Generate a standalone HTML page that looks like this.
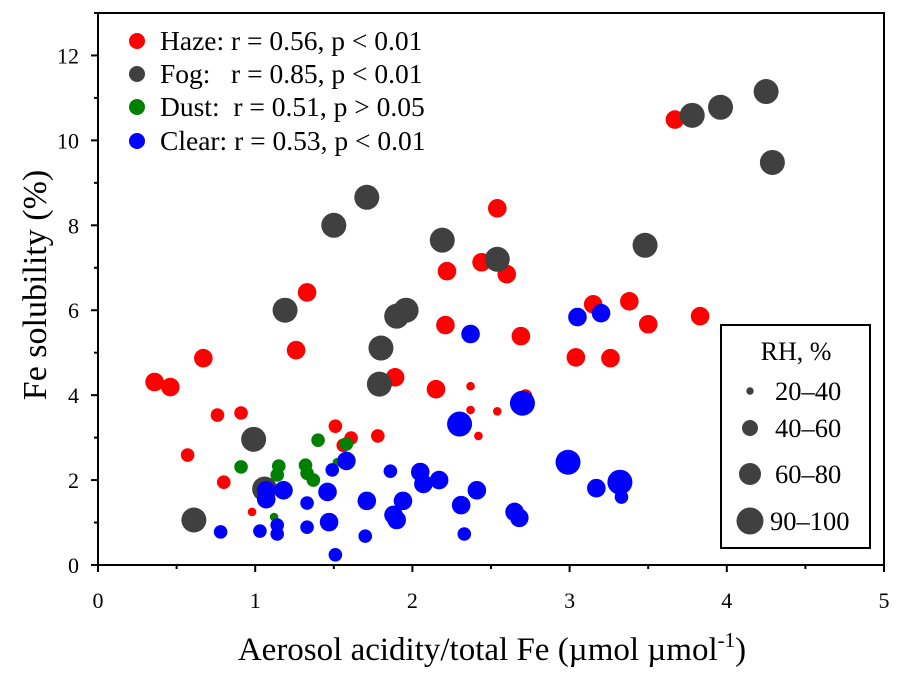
<!DOCTYPE html>
<html><head><meta charset="utf-8">
<style>
html,body{margin:0;padding:0;background:#fff;}
svg{display:block;font-family:"Liberation Serif",serif;}
</style></head>
<body>
<svg id="chart" width="901" height="678" viewBox="0 0 901 678" xmlns="http://www.w3.org/2000/svg">
</svg>
<script>
const xTicks=[0,1,2,3,4,5];
const yTicks=[0,2,4,6,8,10,12];
const seriesNames=["Haze","Fog","Dust","Clear"];
const seriesColors=["#ff0000","#404040","#008000","#0000ff"];
const legendLabels=["Haze: r = 0.56, p < 0.01","Fog:   r = 0.85, p < 0.01","Dust:  r = 0.51, p > 0.05","Clear: r = 0.53, p < 0.01"];
const rhLabels=["20–40","40–60","60–80","90–100"];
const rhLevels=[30,50,70,95];
// Haze
const hazeX=[0.36,0.46,0.67,0.76,0.91,0.57,0.80,0.98,1.26,1.33,1.51,1.61,1.56,1.78,1.89,2.15,2.21,2.22,2.44,2.54,2.60,2.69,2.37,2.37,2.54,2.42,2.72,3.04,3.15,3.26,3.38,3.50,3.67,3.83];
const hazeY=[4.31,4.19,4.87,3.53,3.58,2.59,1.95,1.25,5.06,6.42,3.27,2.99,2.82,3.04,4.42,4.14,5.65,6.92,7.13,8.40,6.85,5.39,4.21,3.65,3.62,3.04,3.98,4.89,6.14,4.87,6.21,5.67,10.49,5.86];
const hazeRH=[70,70,70,50,50,50,50,30,70,70,50,50,50,50,70,70,70,70,70,70,70,70,30,30,30,30,50,70,70,70,70,70,70,70];
// Fog
const fogX=[0.61,0.99,1.06,1.19,1.50,1.71,1.79,1.80,1.90,1.96,2.19,2.54,3.48,3.78,3.96,4.25,4.29];
const fogY=[1.06,2.96,1.79,6.0,8.0,8.66,4.26,5.11,5.86,6.0,7.65,7.2,7.53,10.59,10.78,11.15,9.48];
const fogRH=[95,95,95,95,95,95,95,95,95,95,95,95,95,95,95,95,95];
// Dust
const dustX=[0.91,1.15,1.14,1.32,1.33,1.37,1.40,1.58,1.12,1.52,1.09];
const dustY=[2.31,2.33,2.12,2.35,2.16,2.0,2.94,2.85,1.13,2.42,1.48];
const dustRH=[50,50,50,50,50,50,50,50,30,30,30];
// Clear
const clearX=[0.78,1.03,1.07,1.07,1.14,1.14,1.18,1.33,1.33,1.46,1.47,1.49,1.51,1.58,1.71,1.70,1.86,1.88,1.90,1.94,2.05,2.07,2.17,2.31,2.33,2.41,2.30,2.37,2.70,2.65,2.68,2.99,3.17,3.32,3.33,3.05,3.20];
const clearY=[0.78,0.80,1.55,1.76,0.94,0.73,1.76,1.46,0.89,1.72,1.01,2.24,0.24,2.45,1.51,0.68,2.21,1.18,1.06,1.51,2.19,1.91,2.0,1.41,0.73,1.76,3.32,5.44,3.81,1.25,1.11,2.42,1.81,1.95,1.60,5.84,5.93];
const clearRH=[50,50,70,70,50,50,70,50,50,70,70,50,50,70,70,50,50,70,70,70,70,70,70,70,50,70,95,70,95,70,70,95,70,95,50,70,70];

const L=98,R=884,T=13,B=565;
const xs=v=>L+(v-0)/(5-0)*(R-L);
const ys=v=>B-(v-0)/(13-0)*(B-T);
const rr=rh=>rh<40?4.3:rh<60?6.8:rh<80?9.3:12.5;
const NS="http://www.w3.org/2000/svg";
const svg=document.getElementById('chart');
function mk(tag,attrs,parent){const e=document.createElementNS(NS,tag);for(const k in attrs)e.setAttribute(k,attrs[k]);(parent||svg).appendChild(e);return e;}

const plot=mk('g',{});


const data=[[hazeX,hazeY,hazeRH],[fogX,fogY,fogRH],[dustX,dustY,dustRH],[clearX,clearY,clearRH]];
data.forEach((d,si)=>{
  const g=mk('g',{},plot);
  
  
  d[0].forEach((x,i)=>{
    const c=mk('circle',{cx:xs(x),cy:ys(d[1][i]),r:rr(d[2][i]),fill:seriesColors[si]},g);
    
    
  });
});

const frame=mk('rect',{x:L,y:T,width:R-L,height:B-T,fill:'none',stroke:'#000','stroke-width':2});


xTicks.forEach(v=>{
  const t=mk('line',{x1:xs(v),x2:xs(v),y1:B,y2:B+7,stroke:'#000','stroke-width':2});
  
  
  if(v<5){const m=mk('line',{x1:xs(v+0.5),x2:xs(v+0.5),y1:B,y2:B+4,stroke:'#000','stroke-width':2});
  
  }
  const tx=mk('text',{x:xs(v),y:B+43,'text-anchor':'middle','font-size':22});
  tx.textContent=v;
  
  
});
yTicks.forEach(v=>{
  const t=mk('line',{x1:L-7,x2:L,y1:ys(v),y2:ys(v),stroke:'#000','stroke-width':2});
  
  
  const m=mk('line',{x1:L-4,x2:L,y1:ys(v+1),y2:ys(v+1),stroke:'#000','stroke-width':2});
  
  
  const tx=mk('text',{x:L-19,y:ys(v)+8,'text-anchor':'end','font-size':22});
  tx.textContent=v;
  
  
});
const xt=mk('text',{x:492,y:660,'text-anchor':'middle','font-size':33});
xt.innerHTML='Aerosol acidity/total Fe (µmol µmol<tspan dy="-13" font-size="21">-1</tspan><tspan dy="13">)</tspan>';


const yt=mk('text',{x:0,y:0,'text-anchor':'middle','font-size':34,transform:'translate(46,285) rotate(-90)'});
yt.textContent='Fe solubility (%)';



const lg=mk('g',{});


const lgY=[41,74,107,141];
legendLabels.forEach((lab,i)=>{
  const c=mk('circle',{cx:137,cy:lgY[i],r:8,fill:seriesColors[i]},lg);
  
  
  const t=mk('text',{x:160,y:lgY[i]+9,'font-size':27.5},lg);
  t.setAttribute('style','white-space:pre');
  t.textContent=lab;
  
  
});

const rg=mk('g',{});


const box=mk('rect',{x:721,y:325,width:149,height:223,fill:'#fff',stroke:'#000','stroke-width':2},rg);


const rt=mk('text',{x:796,y:360,'text-anchor':'middle','font-size':26},rg);
rt.textContent='RH, %';


const rY=[391,428,474,521];
const rR=[3.7,8,11,13.5];
rhLabels.forEach((lab,i)=>{
  const c=mk('circle',{cx:750,cy:rY[i],r:rR[i],fill:'#404040'},rg);
  
  
  const t=mk('text',{x:i==3?770:775,y:rY[i]+9,'font-size':26.5},rg);
  t.textContent=lab;
  
  
});
</script>
</body></html>
